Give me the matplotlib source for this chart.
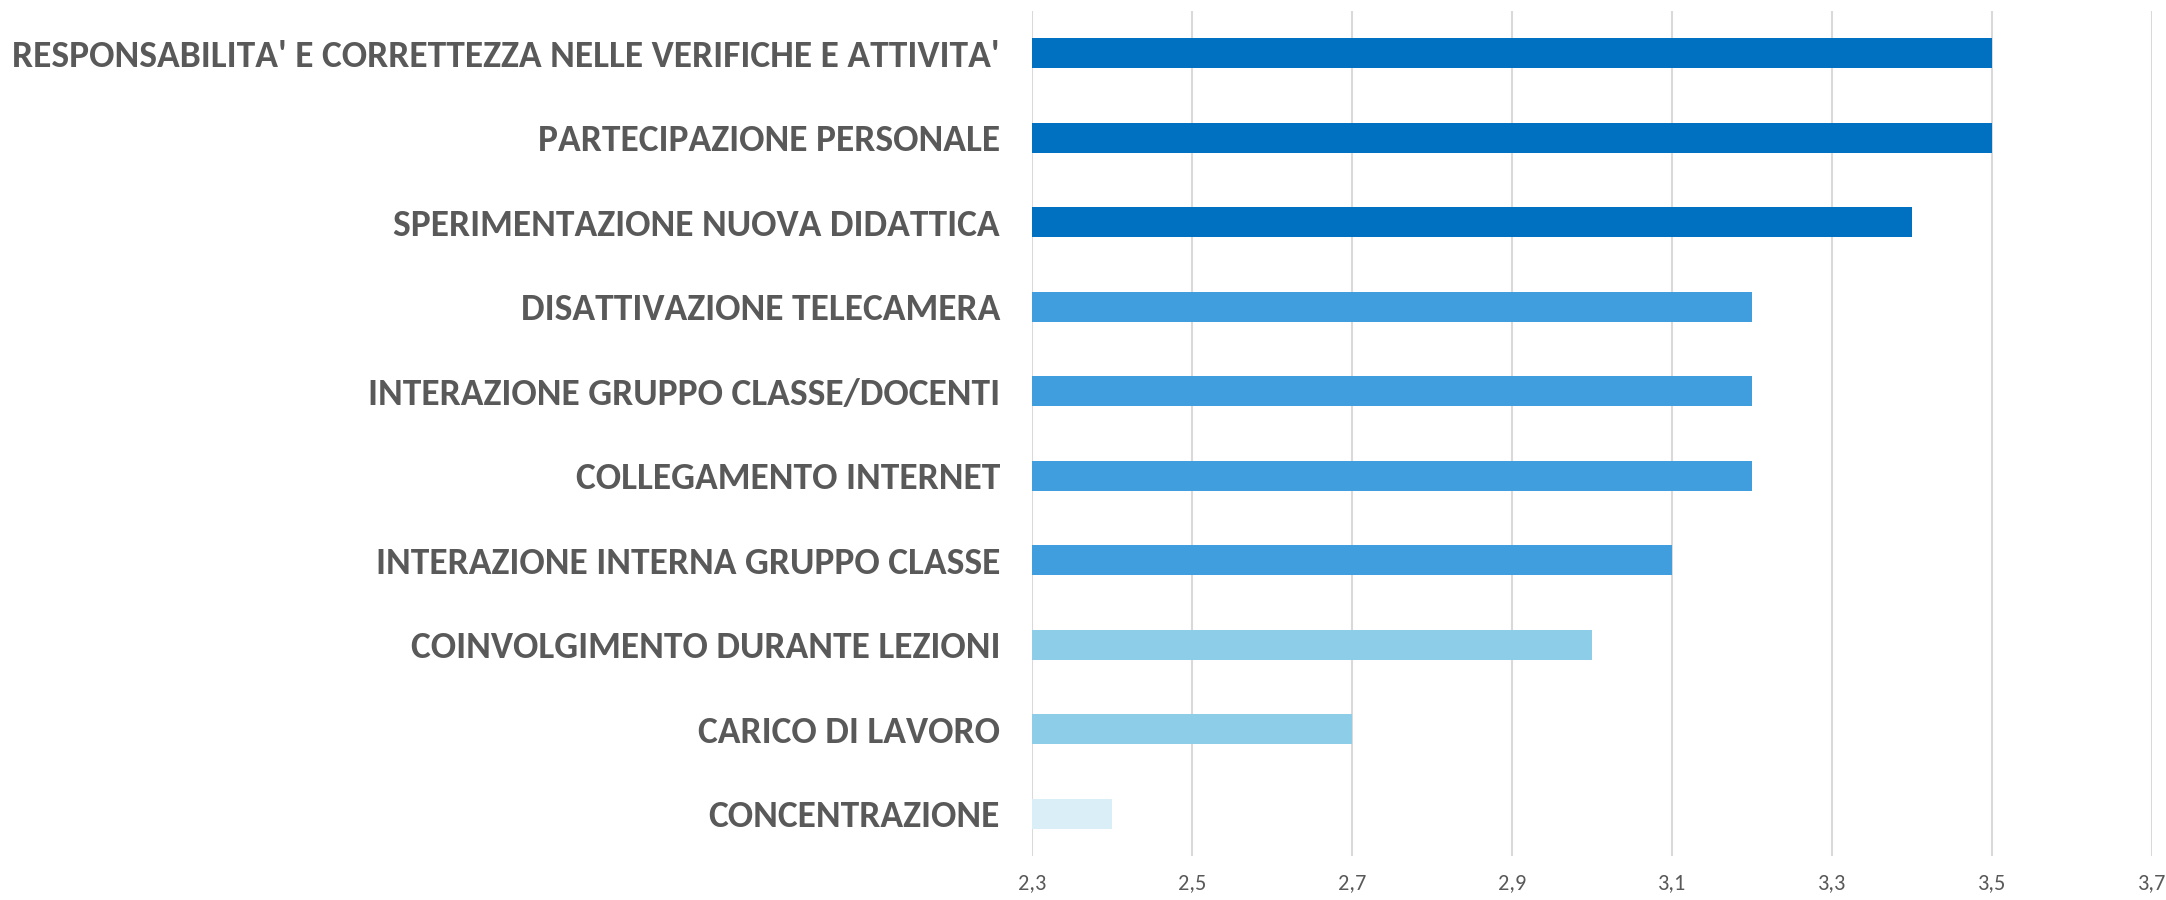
import matplotlib.pyplot as plt

categories = [
    "RESPONSABILITA' E CORRETTEZZA NELLE VERIFICHE E ATTIVITA'",
    "PARTECIPAZIONE PERSONALE",
    "SPERIMENTAZIONE NUOVA DIDATTICA",
    "DISATTIVAZIONE TELECAMERA",
    "INTERAZIONE GRUPPO CLASSE/DOCENTI",
    "COLLEGAMENTO INTERNET",
    "INTERAZIONE INTERNA GRUPPO CLASSE",
    "COINVOLGIMENTO DURANTE LEZIONI",
    "CARICO DI LAVORO",
    "CONCENTRAZIONE",
]
values = [3.5, 3.5, 3.4, 3.2, 3.2, 3.2, 3.1, 3.0, 2.7, 2.4]
colors = ["#0070C0", "#0070C0", "#0070C0", "#409EDE", "#409EDE",
          "#409EDE", "#409EDE", "#8ECDE8", "#8ECDE8", "#DAEEF7"]
ticks = [2.3, 2.5, 2.7, 2.9, 3.1, 3.3, 3.5, 3.7]

plt.rcParams['font.family'] = ['Carlito', 'DejaVu Sans']

fig = plt.figure(figsize=(21.66, 9), dpi=100)
ax = fig.add_axes([1032 / 2166, 44 / 900, 1120 / 2166, 845 / 900])

pos = list(range(len(categories)))
base = ticks[0]
ax.barh(pos, [v - base for v in values], left=base, height=0.36, color=colors, zorder=3)

ax.set_xlim(ticks[0], ticks[-1])
ax.set_ylim(len(categories) - 0.5, -0.5)
ax.set_xticks(ticks)
ax.set_xticklabels([f"{t:.1f}".replace(".", ",") for t in ticks],
                   fontsize=16, color="#595959")
ax.set_yticks(pos)
ax.set_yticklabels(categories, fontsize=27, fontweight="bold", color="#595959")
ax.tick_params(axis="y", length=0, pad=23)
ax.tick_params(axis="x", length=0, pad=12)
ax.grid(axis="x", color="#D9D9D9", linewidth=1.5, zorder=0)
for s in ax.spines.values():
    s.set_visible(False)

plt.savefig("out.png", dpi=100)
